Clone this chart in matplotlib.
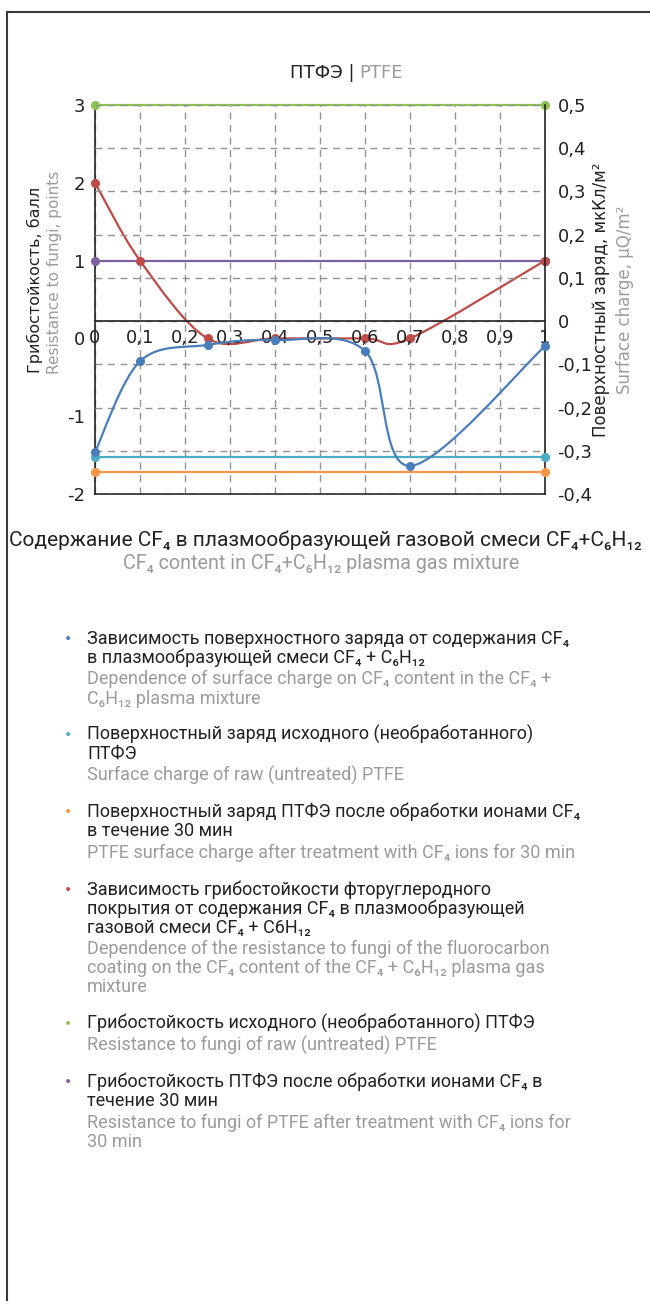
import numpy as np
import matplotlib
matplotlib.use('Agg')
import matplotlib.pyplot as plt
from matplotlib.path import Path
from matplotlib.patches import PathPatch
from matplotlib.lines import Line2D

plt.rcParams['font.family'] = ['DejaVu Sans']

W, H = 650, 1301
TEXT_FONT = ['Roboto', 'DejaVu Sans']
DARK = '#222222'
GRAY = '#9b9b9b'

# --- data -------------------------------------------------------------
cf4_share = [0, 0.1, 0.25, 0.4, 0.6, 0.7, 1]
charge = [-0.303, -0.093, -0.055, -0.044, -0.069, -0.335, -0.058]   # right axis
fungi = [2, 1, 0, 0, 0, 0, 1]                                        # left axis
ends = [0, 1]
charge_raw = -0.315
charge_treated = -0.35
fungi_raw = 3
fungi_treated = 1

x_ticks = [0, 0.1, 0.2, 0.3, 0.4, 0.5, 0.6, 0.7, 0.8, 0.9, 1]
x_ticklabels = ['0', '0,1', '0,2', '0,3', '0,4', '0,5', '0,6', '0,7', '0,8', '0,9', '1']
left_ticks = [-2, -1, 0, 1, 2, 3]
left_ticklabels = ['-2', '-1', '0', '1', '2', '3']
right_ticks = [-0.4, -0.3, -0.2, -0.1, 0, 0.1, 0.2, 0.3, 0.4, 0.5]
right_ticklabels = ['-0,4', '-0,3', '-0,2', '-0,1', '0', '0,1', '0,2', '0,3', '0,4', '0,5']

c_blue = '#4a7ebb'
c_cyan = '#4bacc6'
c_orange = '#f79646'
c_red = '#be4b48'
c_green = '#8dc152'
c_purple = '#7d60a0'

legend_colors = [c_blue, c_cyan, c_orange, c_red, c_green, c_purple]
legend_ru = [
    ['Зависимость поверхностного заряда от содержания CF₄',
     'в плазмообразующей смеси CF₄ + C₆H₁₂'],
    ['Поверхностный заряд исходного (необработанного)', 'ПТФЭ'],
    ['Поверхностный заряд ПТФЭ после обработки ионами CF₄',
     'в течение 30 мин'],
    ['Зависимость грибостойкости фторуглеродного',
     'покрытия от содержания CF₄ в плазмообразующей',
     'газовой смеси CF₄ + C6H₁₂'],
    ['Грибостойкость исходного (необработанного) ПТФЭ'],
    ['Грибостойкость ПТФЭ после обработки ионами CF₄ в',
     'течение 30 мин'],
]
legend_en = [
    ['Dependence of surface charge on CF₄ content in the CF₄ +',
     'C₆H₁₂ plasma mixture'],
    ['Surface charge of raw (untreated) PTFE'],
    ['PTFE surface charge after treatment with CF₄ ions for 30 min'],
    ['Dependence of the resistance to fungi of the fluorocarbon',
     'coating on the CF₄ content of the CF₄ + C₆H₁₂ plasma gas',
     'mixture'],
    ['Resistance to fungi of raw (untreated) PTFE'],
    ['Resistance to fungi of PTFE after treatment with CF₄ ions for',
     '30 min'],
]
xlabel_ru = 'Содержание CF₄ в плазмообразующей газовой смеси CF₄+C₆H₁₂'
xlabel_en = 'CF₄ content in CF₄+C₆H₁₂ plasma gas mixture'


def fx(px):
    return px / W


def fy(py):
    return 1 - py / H


def smooth_path(xs, ys):
    # excel-like smoothed line: catmull-rom segments as cubic beziers
    pts = np.column_stack([xs, ys]).astype(float)
    ext = np.vstack([pts[0], pts, pts[-1]])
    verts = [pts[0]]
    codes = [Path.MOVETO]
    for i in range(len(pts) - 1):
        p0, p1, p2, p3 = ext[i], ext[i + 1], ext[i + 2], ext[i + 3]
        verts += [p1 + (p2 - p0) / 6, p2 - (p3 - p1) / 6, p2]
        codes += [Path.CURVE4] * 3
    return Path(verts, codes)


fig = plt.figure(figsize=(W / 100, H / 100), dpi=100)
ax = fig.add_axes([fx(95), fy(494), 450 / W, 389 / H])
ax2 = ax.twinx()

ax.set_xlim(0, 1)
ax.set_ylim(-2, 3)
ax2.set_ylim(-0.4, 0.5)

grid_kw = dict(color='#939393', lw=1, ls=(0, (5, 4)))
ax.xaxis.grid(True, **grid_kw)
ax2.yaxis.grid(True, **grid_kw)

for s in ['top', 'right']:
    ax.spines[s].set_visible(False)
for s in ['top', 'left']:
    ax2.spines[s].set_visible(False)
for a in (ax, ax2):
    for s in a.spines.values():
        s.set_color(DARK)
        s.set_linewidth(1.2)
ax2.spines['bottom'].set_position(('data', 0))

ax.set_yticks(left_ticks, left_ticklabels)
ax2.set_yticks(right_ticks, right_ticklabels)
ax2.xaxis.set_visible(True)
ax2.set_xticks(x_ticks, x_ticklabels)
ax.tick_params(axis='x', labelbottom=False, length=0)
ax.tick_params(axis='y', length=0, pad=7, labelsize=13, labelcolor=DARK)
ax2.tick_params(axis='y', length=0, pad=9, labelsize=13, labelcolor=DARK)
ax2.tick_params(axis='x', length=0, pad=6, labelsize=13, labelcolor=DARK)

line_kw = dict(lw=1.6, solid_capstyle='round')
mark_kw = dict(ms=5.5, clip_on=False, zorder=4)

# left axis: resistance to fungi
ax.plot(ends, [fungi_raw] * 2, color=c_green, clip_on=False, **line_kw)
ax.plot(ends, [fungi_raw] * 2, 'o', color=c_green, **mark_kw)
ax.plot(ends, [fungi_treated] * 2, color=c_purple, **line_kw)
ax.plot(ends, [fungi_treated] * 2, 'o', color=c_purple, **mark_kw)
ax.add_patch(PathPatch(smooth_path(cf4_share, fungi), fill=False,
                       edgecolor=c_red, lw=1.6, zorder=3))
ax.plot(cf4_share, fungi, 'o', color=c_red, **mark_kw)

# right axis: surface charge
ax2.plot(ends, [charge_treated] * 2, color=c_orange, **line_kw)
ax2.plot(ends, [charge_treated] * 2, 'o', color=c_orange, **mark_kw)
ax2.plot(ends, [charge_raw] * 2, color=c_cyan, **line_kw)
ax2.plot(ends, [charge_raw] * 2, 'o', color=c_cyan, **mark_kw)
ax2.add_patch(PathPatch(smooth_path(cf4_share, charge), fill=False,
                        edgecolor=c_blue, lw=1.6, zorder=3))
ax2.plot(cf4_share, charge, 'o', color=c_blue, **mark_kw)

# title
fig.text(fx(355), fy(73), 'ПТФЭ |', ha='right', va='center', fontsize=13, color=DARK)
fig.text(fx(359), fy(73), 'PTFE', ha='left', va='center', fontsize=13, color=GRAY)

# axis titles
fig.text(fx(35), fy(280), 'Грибостойкость, балл', rotation=90,
         ha='center', va='center', fontsize=11.5, color=DARK)
fig.text(fx(55), fy(272), 'Resistance to fungi, points', rotation=90,
         ha='center', va='center', fontsize=11, color=GRAY)
fig.text(fx(601), fy(300), 'Поверхностный заряд, мкКл/м²', rotation=90,
         ha='center', va='center', fontsize=12, color=DARK)
fig.text(fx(625), fy(300), 'Surface charge, μQ/m²', rotation=90,
         ha='center', va='center', fontsize=12, color=GRAY)

fig.text(fx(325), fy(546), xlabel_ru, ha='center', va='baseline',
         fontsize=15, color=DARK, family=TEXT_FONT)
fig.text(fx(321), fy(569), xlabel_en, ha='center', va='baseline',
         fontsize=14.2, color=GRAY, family=TEXT_FONT)

# legend
y = 638
for color, ru, en in zip(legend_colors, legend_ru, legend_en):
    fig.text(fx(68), fy(y + 1), '•', ha='center', va='center', fontsize=10, color=color)
    for line in ru:
        fig.text(fx(87), fy(y + 6), line, ha='left', va='baseline',
                 fontsize=13, color=DARK, family=TEXT_FONT)
        y += 19.0
    y += 2.5
    for line in en:
        fig.text(fx(87), fy(y + 6), line, ha='left', va='baseline',
                 fontsize=13, color=GRAY, family=TEXT_FONT)
        y += 19.0
    y += 17.7

# frame: top and left only
fig.add_artist(Line2D([fx(7), fx(7)], [0, fy(12)], transform=fig.transFigure,
                      color='#3a3a3a', lw=1.5))
fig.add_artist(Line2D([fx(7), 1], [fy(12), fy(12)], transform=fig.transFigure,
                      color='#3a3a3a', lw=1.5))

fig.savefig('out.png', dpi=100)
